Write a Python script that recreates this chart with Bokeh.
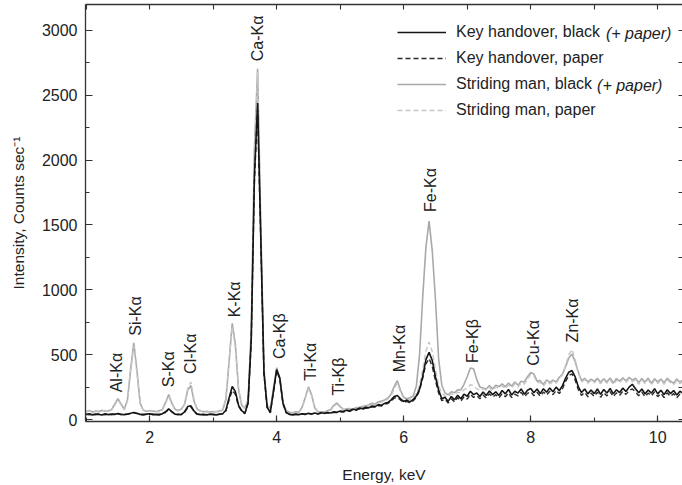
import numpy as np
from bokeh.plotting import figure
from bokeh.models import (ColumnDataSource, Legend, LegendItem, LinearAxis,
                          SingleIntervalTicker, FixedTicker, Range1d, Label)
from bokeh.core.properties import value
from bokeh.embed import file_html
from bokeh.resources import INLINE

# ---------------- data ----------------
# energy grid: 1.00 ... 10.40 keV, every 0.05 keV (189 samples)
e_start, e_step = 1.00, 0.05

striding_black = [
    62, 70, 58, 66, 60, 72, 64, 68, 76, 118,        # 1.00-1.45
    162, 120, 78, 150, 385, 592, 380, 128, 72, 64,  # 1.50-1.95
    70, 66, 60, 68, 76, 130, 192, 126, 80, 70,      # 2.00-2.45
    82, 118, 228, 262, 138, 80, 66, 60, 64, 58,     # 2.50-2.95
    62, 60, 66, 74, 150, 440, 742, 580, 230, 110,   # 3.00-3.45
    88, 150, 700, 2090, 2705, 1500, 390, 110, 85, 240,  # 3.50-3.95
    400, 320, 130, 68, 56, 52, 60, 56, 95, 170,     # 4.00-4.45
    252, 190, 90, 62, 60, 58, 68, 78, 110, 128,     # 4.50-4.95
    100, 78, 82, 84, 80, 92, 94, 100, 106, 112,     # 5.00-5.45
    126, 120, 136, 142, 150, 166, 195, 255, 300, 225,  # 5.50-5.95
    172, 160, 168, 182, 260, 500, 950, 1330, 1530, 1300,  # 6.00-6.45
    930, 470, 265, 205, 190, 214, 206, 230, 228, 272,  # 6.50-6.95
    330, 398, 392, 310, 250, 244, 236, 262, 236, 264,  # 7.00-7.45
    254, 276, 252, 282, 258, 290, 264, 296, 290, 330,  # 7.50-7.95
    362, 352, 296, 300, 270, 306, 286, 304, 290, 326,  # 8.00-8.45
    350, 410, 475, 505, 445, 365, 300, 318, 290, 312,  # 8.50-8.95
    294, 318, 288, 314, 290, 320, 282, 316, 296, 322,  # 9.00-9.45
    298, 326, 304, 318, 284, 316, 290, 320, 280, 314,  # 9.50-9.95
    290, 312, 284, 318, 296, 280, 312, 288, 306,       # 10.00-10.40
]

striding_paper = [
    58, 66, 62, 60, 68, 64, 70, 62, 72, 110,
    150, 115, 74, 140, 370, 565, 360, 120, 70, 60,
    66, 62, 64, 60, 72, 124, 182, 120, 76, 66,
    78, 120, 240, 290, 150, 76, 62, 64, 58, 60,
    58, 62, 60, 70, 170, 455, 720, 555, 235, 108,
    84, 145, 690, 2060, 2680, 1480, 380, 105, 82, 232,
    390, 312, 126, 64, 54, 50, 56, 54, 90, 162,
    240, 182, 86, 60, 56, 56, 64, 72, 102, 120,
    96, 74, 78, 80, 76, 86, 90, 96, 100, 106,
    118, 114, 128, 134, 142, 158, 182, 235, 280, 212,
    160, 150, 156, 166, 200, 262, 390, 528, 598, 525,
    388, 262, 205, 182, 176, 198, 190, 212, 206, 230,
    242, 268, 262, 238, 222, 236, 226, 246, 222, 250,
    240, 262, 238, 266, 246, 274, 250, 282, 274, 312,
    348, 336, 284, 288, 258, 292, 274, 292, 280, 314,
    345, 420, 500, 540, 460, 360, 290, 306, 280, 300,
    282, 306, 276, 302, 280, 308, 270, 304, 284, 310,
    286, 314, 292, 306, 272, 304, 278, 308, 268, 302,
    278, 300, 272, 306, 284, 268, 300, 276, 294,
]

key_black = [
    38, 44, 36, 42, 40, 35, 44, 38, 42, 40,
    46, 40, 38, 42, 48, 55, 48, 40, 36, 42,
    45, 38, 40, 36, 45, 60, 82, 62, 42, 38,
    40, 60, 100, 106, 65, 42, 38, 40, 35, 42,
    38, 36, 42, 45, 72, 165, 255, 215, 110, 68,
    48, 130, 620, 1880, 2440, 1400, 360, 95, 55, 220,
    385, 318, 125, 55, 40, 36, 42, 38, 44, 40,
    48, 42, 50, 45, 52, 48, 55, 50, 60, 56,
    65, 62, 72, 68, 80, 76, 88, 84, 95, 90,
    105, 100, 115, 110, 125, 132, 150, 178, 186, 160,
    140, 150, 136, 155, 182, 235, 335, 462, 518, 455,
    330, 228, 160, 172, 140, 178, 152, 188, 160, 196,
    180, 218, 192, 205, 178, 212, 186, 220, 192, 214,
    186, 224, 198, 232, 190, 218, 204, 236, 196, 226,
    240, 206, 236, 200, 238, 210, 244, 214, 250, 222,
    262, 320, 365, 378, 330, 252, 208, 236, 198, 228,
    200, 236, 194, 232, 204, 240, 198, 230, 208, 242,
    216, 250, 272, 238, 206, 236, 198, 228, 204, 238,
    198, 226, 192, 230, 200, 224, 190, 218, 202,
]

key_paper = [
    42, 36, 40, 38, 44, 40, 36, 42, 38, 44,
    42, 38, 44, 40, 46, 52, 46, 38, 42, 38,
    40, 44, 36, 42, 40, 56, 76, 58, 40, 42,
    38, 56, 92, 98, 60, 40, 42, 36, 40, 38,
    42, 38, 40, 44, 66, 150, 225, 195, 102, 64,
    46, 125, 600, 1840, 2390, 1370, 350, 92, 52, 212,
    378, 310, 120, 52, 42, 38, 40, 36, 42, 44,
    46, 44, 48, 42, 50, 46, 52, 48, 56, 52,
    60, 58, 66, 64, 74, 70, 82, 78, 88, 86,
    98, 94, 108, 104, 118, 124, 140, 165, 172, 150,
    132, 140, 128, 145, 170, 225, 320, 430, 470, 410,
    300, 205, 146, 158, 128, 160, 136, 170, 142, 176,
    158, 196, 170, 184, 160, 190, 166, 198, 172, 192,
    166, 200, 176, 206, 170, 196, 182, 210, 176, 202,
    214, 184, 210, 180, 212, 188, 218, 192, 224, 200,
    238, 295, 340, 352, 305, 230, 186, 210, 176, 204,
    178, 212, 172, 208, 182, 216, 176, 206, 186, 218,
    194, 224, 236, 212, 184, 212, 176, 204, 182, 214,
    176, 202, 170, 206, 178, 200, 168, 196, 180,
]

peak_names = ["Al-Kα", "Si-Kα", "S-Kα", "Cl-Kα", "K-Kα", "Ca-Kα", "Ca-Kβ",
              "Ti-Kα", "Ti-Kβ", "Mn-Kα", "Fe-Kα", "Fe-Kβ", "Cu-Kα", "Zn-Kα"]
peak_label_energy = [1.48, 1.78, 2.30, 2.65, 3.34, 3.70, 4.04,
                     4.54, 4.98, 5.93, 6.43, 7.08, 8.05, 8.66]
peak_label_height = [210, 646, 249, 352, 788, 2762, 467,
                     300, 185, 365, 1600, 436, 415, 595]

legend_labels = ["Key handover, black", "Key handover, paper",
                 "Striding man, black", "Striding man, paper"]
legend_suffix = "(+ paper)"

# tick marks mirrored on the top and right frame edges
top_ticks = list(range(1, 11))
right_ticks = list(range(0, 3001, 250))

energy = [round(e_start + e_step * i, 2) for i in range(len(key_black))]

# ---------------- figure ----------------
FONT = "Liberation Sans"
TXT = "#222222"
AX = "#333333"

p = figure(width=682, height=485, output_backend="svg", toolbar_location=None,
           x_range=Range1d(0.99, 10.39), y_range=Range1d(-15, 3200),
           x_axis_location=None, y_axis_location=None,
           min_border_left=85, min_border_right=0, min_border_top=4,
           min_border_bottom=62)
p.outline_line_color = None
p.xgrid.visible = False
p.ygrid.visible = False
p.background_fill_color = "white"
p.border_fill_color = "white"


def style_axis(ax, line=True):
    ax.axis_line_color = AX if line else None
    ax.axis_line_width = 1.3
    ax.major_tick_line_color = AX
    ax.minor_tick_line_color = AX
    ax.major_tick_line_width = 1.2
    ax.minor_tick_line_width = 1.1
    ax.major_tick_in = 6
    ax.major_tick_out = 0
    ax.minor_tick_in = 4
    ax.minor_tick_out = 0
    ax.major_label_text_font = FONT
    ax.major_label_text_color = TXT
    ax.major_label_text_font_size = "16px"
    ax.axis_label_text_font = FONT
    ax.axis_label_text_color = TXT
    ax.axis_label_text_font_style = "normal"
    ax.axis_label_text_font_size = "15.5px"


xt = SingleIntervalTicker(interval=2, num_minor_ticks=2)
yt = SingleIntervalTicker(interval=500, num_minor_ticks=2)

xb = LinearAxis(ticker=xt, axis_label="Energy, keV")
style_axis(xb)
xb.major_label_standoff = 9
xb.axis_label_standoff = 20
p.add_layout(xb, "below")

# top edge: only (minor-style) tick marks, no labels
xa = LinearAxis(ticker=FixedTicker(ticks=[], minor_ticks=top_ticks))
style_axis(xa)
xa.minor_tick_in = 5
p.add_layout(xa, "above")

yl = LinearAxis(ticker=yt, axis_label="Intensity, Counts sec⁻¹")
style_axis(yl)
yl.major_tick_in = 7
yl.major_label_standoff = 8
yl.axis_label_standoff = 12
p.add_layout(yl, "left")

yr = LinearAxis(ticker=FixedTicker(ticks=[], minor_ticks=right_ticks))
style_axis(yr, line=False)
yr.minor_tick_in = 4
p.add_layout(yr, "right")

src = ColumnDataSource(dict(e=energy, sb=striding_black, sp=striding_paper,
                            kb=key_black, kp=key_paper))

r_sb = p.line("e", "sb", source=src, line_color="#a9a9a9", line_width=1.6)
r_sp = p.line("e", "sp", source=src, line_color="#c6c6c6", line_width=1.4,
              line_dash="5 3")
r_kp = p.line("e", "kp", source=src, line_color="#2b2b2b", line_width=1.4,
              line_dash="5 3")
r_kb = p.line("e", "kb", source=src, line_color="#151515", line_width=1.6)

lab_src = ColumnDataSource(dict(x=peak_label_energy, y=peak_label_height,
                                t=peak_names))
p.text("x", "y", text="t", source=lab_src, angle=np.pi / 2,
       text_align="left", text_baseline="middle",
       text_font=value(FONT), text_font_size="16px", text_color=TXT)

legend = Legend(items=[
    LegendItem(label=legend_labels[0], renderers=[r_kb]),
    LegendItem(label=legend_labels[1], renderers=[r_kp]),
    LegendItem(label=legend_labels[2], renderers=[r_sb]),
    LegendItem(label=legend_labels[3], renderers=[r_sp]),
], location=(312, 301), orientation="vertical",
    border_line_color=None, background_fill_alpha=0.0,
    padding=0, margin=0, spacing=6, glyph_width=49, glyph_height=20,
    label_height=20, label_standoff=10,
    label_text_font=FONT, label_text_font_size="16px",
    label_text_color=TXT)
p.add_layout(legend)

# italic "(+ paper)" parts of the two "black" legend entries
for lx, ly in ((9.185, 2977), (9.045, 2578)):
    p.add_layout(Label(x=lx, y=ly, text=legend_suffix, text_font=FONT,
                       text_font_size="16px", text_font_style="italic",
                       text_color=TXT, text_baseline="middle",
                       text_align="left"))

open("out.html", "w").write(file_html(p, INLINE))
